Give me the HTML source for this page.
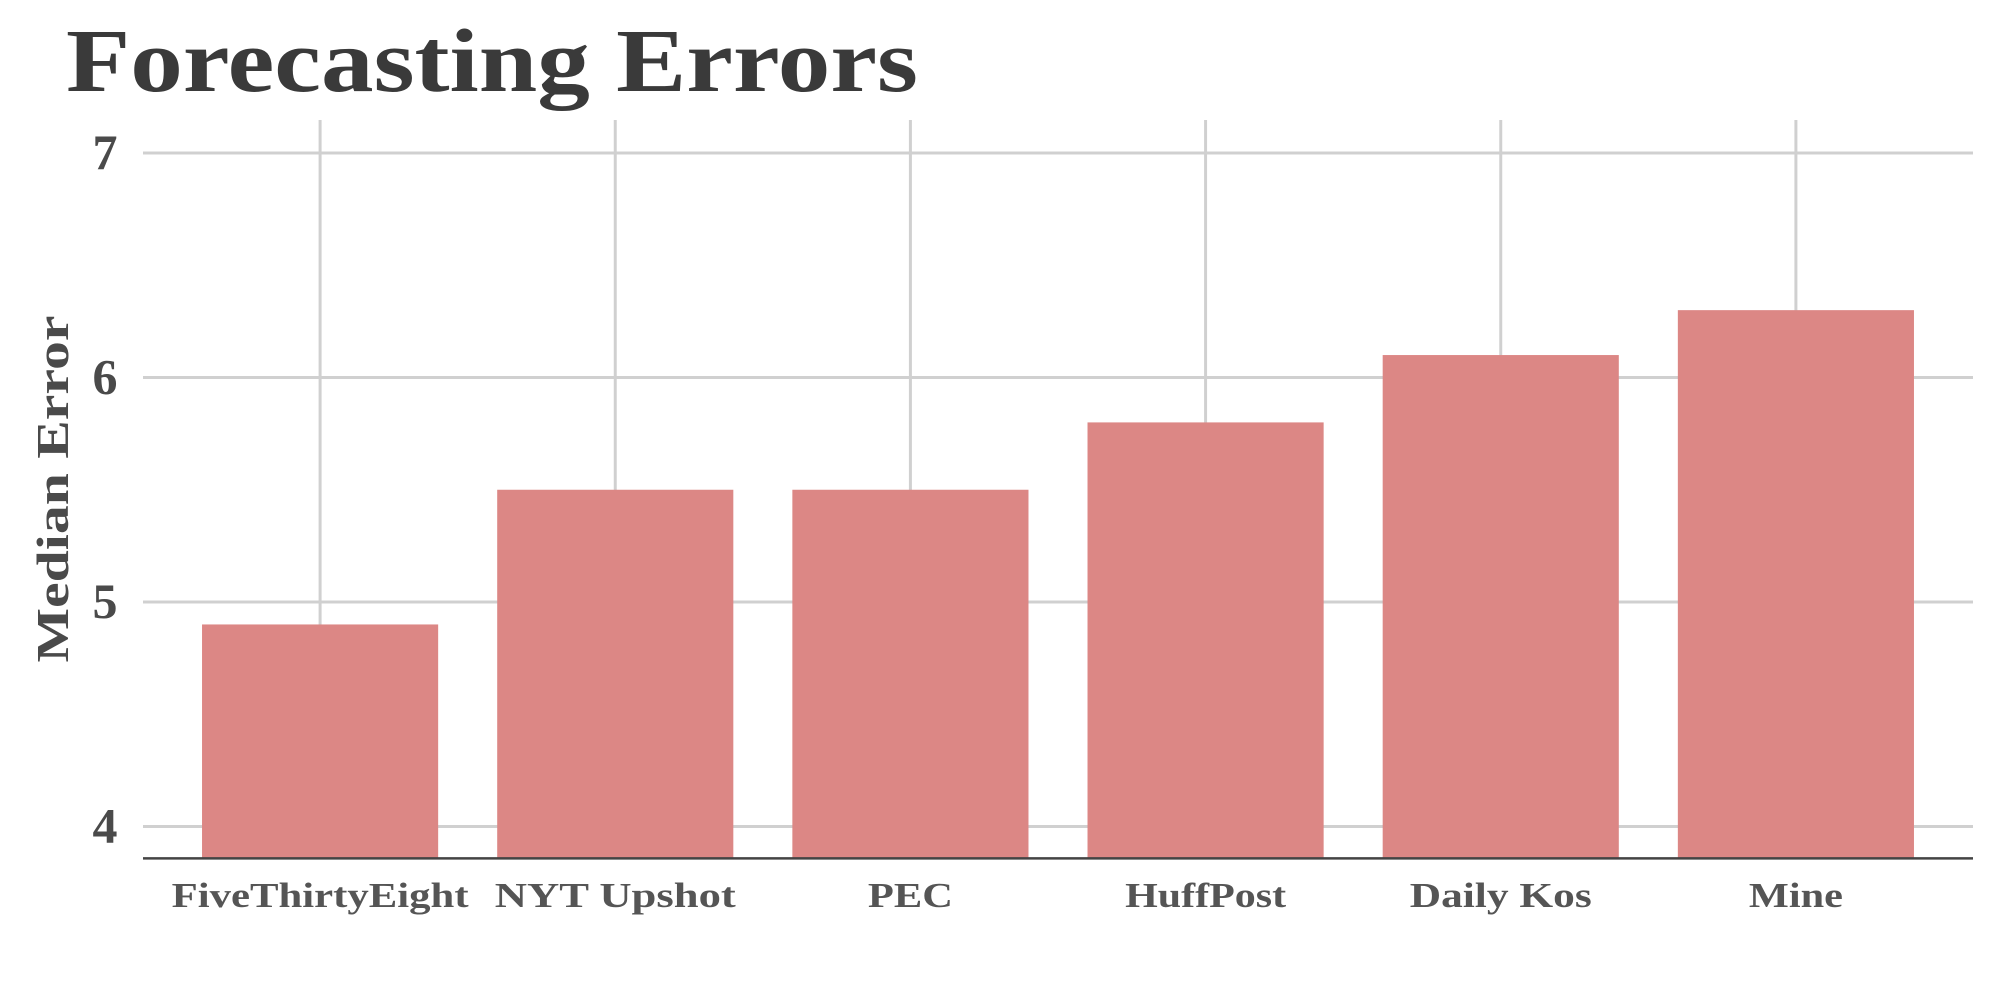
<!DOCTYPE html>
<html><head><meta charset="utf-8"><style>
html,body{margin:0;padding:0;background:#fff;}
svg{display:block;font-family:"Liberation Serif",serif;font-weight:bold;}
</style></head><body>
<svg id="chart" width="2000" height="1000" viewBox="0 0 2000 1000">
<text x="66" y="91" font-size="90" fill="#3a3a3a" textLength="852" lengthAdjust="spacingAndGlyphs">Forecasting Errors</text>
<text transform="translate(68,489) rotate(-90)" text-anchor="middle" font-size="46" fill="#4a4a4a" textLength="347" lengthAdjust="spacingAndGlyphs">Median Error</text>
<g id="grid"></g><g id="bars"></g><g id="axes"></g>
</svg>
<script>
const categories = ["FiveThirtyEight","NYT Upshot","PEC","HuffPost","Daily Kos","Mine"];
const values = [4.9,5.5,5.5,5.8,6.1,6.3];
const yTicks = [4,5,6,7];
const labelWidths = [297,241,85,161,182,94];
const NS="http://www.w3.org/2000/svg";
const L=143,R=1973;
function x(i){return L+(i+0.6)*(R-L)/6.2;}
function y(v){return 153+(7-v)*224.5;}
const base=y(3.858);
function mk(tag,attrs,parent){const e=document.createElementNS(NS,tag);for(const k in attrs)e.setAttribute(k,attrs[k]);document.getElementById(parent).appendChild(e);return e;}
yTicks.forEach(t=>{
  const g=mk('line',{x1:L,x2:R,y1:y(t),y2:y(t),stroke:'#d0d0d0','stroke-width':3},'grid');
  
  
  const tx=mk('text',{x:105,y:y(t)+16,'text-anchor':'middle','font-size':50,fill:'#4a4a4a'},'axes');
  tx.textContent=t;
  
  
});
categories.forEach((c,i)=>{
  const g=mk('line',{x1:x(i),x2:x(i),y1:120,y2:base,stroke:'#d0d0d0','stroke-width':3},'grid');
  
  
  const w=0.8*(R-L)/6.2;
  const b=mk('rect',{x:x(i)-w/2,y:y(values[i]),width:w,height:base-y(values[i]),fill:'#dc8785'},'bars');
  
  
  const tx=mk('text',{x:x(i),y:907,'text-anchor':'middle','font-size':35,fill:'#555',textLength:labelWidths[i],lengthAdjust:'spacingAndGlyphs'},'axes');
  tx.textContent=c;
  
  
});
const ax=mk('line',{x1:L,x2:R,y1:base,y2:base,stroke:'#444','stroke-width':2.5},'axes');


</script>
</body></html>
